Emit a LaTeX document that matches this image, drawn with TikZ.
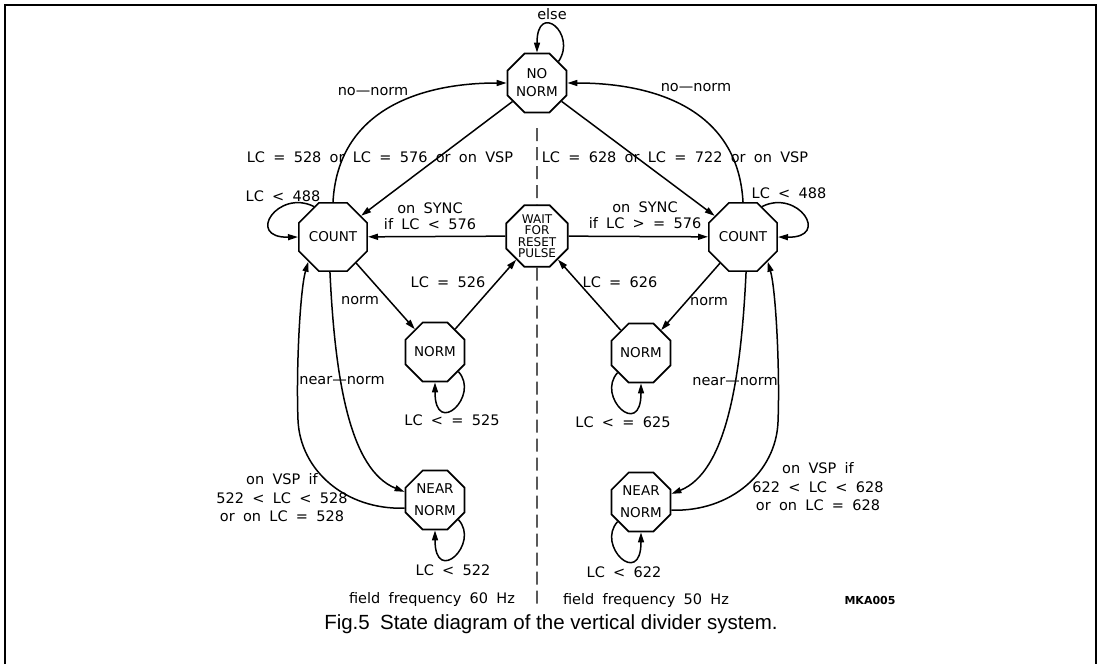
\documentclass[tikz,border=0pt]{standalone}
\usepackage{fontspec}
\setmainfont{DejaVu Sans}[WordSpace=1.8]
\newfontfamily\capfont{Liberation Sans}
\usepackage{tikz}
\usetikzlibrary{arrows.meta,shapes.geometric}
\newcommand{\condfont}{\fontsize{14.5}{18.5}\selectfont}
\newcommand{\statefont}{\fontsize{13.5}{18}\selectfont}
\newcommand{\waitfont}{\fontsize{12}{11.5}\selectfont}
\tikzset{
  >={Triangle[length=10pt,width=6pt]},
  flow/.style={->,line width=1.5pt},
  statebox/.style={draw,line width=1.7pt,regular polygon,regular polygon sides=8,
    minimum size=64pt,inner sep=0pt,align=center,font=\statefont},
  waitbox/.style={statebox,font=\waitfont},
  cond/.style={inner sep=0pt,align=center,font=\condfont},
  divider/.style={line width=1.2pt,dash pattern=on 13pt off 6pt}
}

\begin{document}
\begin{tikzpicture}[x=1pt,y=-1pt]
  \useasboundingbox (0,0) rectangle (1097,664);
  \draw[line width=2pt] (5,664) -- (5,5) -- (1096,5) -- (1096,664);

  % states
  \node[statebox] (nonorm) at (537,83) {NO\\NORM};
  \node[statebox] (countl) at (333,237) {COUNT};
  \node[waitbox] (wait) at (537,236) {WAIT\\FOR\\RESET\\PULSE};
  \node[statebox] (countr) at (743,237) {COUNT};
  \node[statebox] (norml) at (435,352) {NORM};
  \node[statebox] (normr) at (641,353) {NORM};
  \node[statebox] (nearl) at (435,500) {NEAR\\[4pt]NORM};
  \node[statebox] (nearr) at (641,502) {NEAR\\[4pt]NORM};

  % divider between 60 Hz and 50 Hz
  \coordinate (divtop) at (537,128);
  \coordinate (divbot) at (537,604);
  \draw[divider] (divtop) -- (wait.north);
  \draw[divider] (wait.south) -- (divbot);

  % transitions
  \draw[flow] (nonorm.45) .. controls +(19,-28) and +(0,-52) .. (nonorm.north);
  \draw[flow] (countl.north) .. controls (338,110) and (420,83) .. (nonorm.west);
  \draw[flow] (countr.north) .. controls (738,110) and (656,83) .. (nonorm.east);
  \draw[flow] (nonorm) -- (countl);
  \draw[flow] (nonorm) -- (countr);
  \draw[flow] (countl.122) .. controls +(-36,-18) and +(-53,1) .. (countl.west);
  \draw[flow] (countr.58) .. controls +(36,-18) and +(53,1) .. (countr.east);
  \draw[flow] (wait) -- (countl);
  \draw[flow] (wait) -- (countr);
  \draw[flow] (countl) -- (norml);
  \draw[flow] (norml) -- (wait);
  \draw[flow] (countr) -- (normr);
  \draw[flow] (normr) -- (wait);
  \draw[flow] (norml.-40) .. controls +(22,24) and +(0,56) .. (norml.south);
  \draw[flow] (normr.220) .. controls +(-22,24) and +(0,56) .. (normr.south);
  \draw[flow] (nearl.-40) .. controls +(22,24) and +(0,56) .. (nearl.south);
  \draw[flow] (nearr.220) .. controls +(-22,24) and +(0,56) .. (nearr.south);
  \draw[flow] (countl.265) .. controls (335,380) and (350,470) .. (nearl.165);
  \draw[flow] (countr.275) .. controls (741,380) and (726,472) .. (nearr.15);
  \draw[flow] (nearl.195) .. controls (345,510) and (300,470) .. (298,420)
    .. controls (296,370) and (300,290) .. (countl.225);
  \draw[flow] (nearr.-15) .. controls (731,512) and (776,472) .. (778,422)
    .. controls (780,372) and (776,290) .. (countr.-45);

  % conditions
  \node[cond] (celse) at (552,14) {else};
  \node[cond] (cnonorml) at (373,92) {no---norm};
  \node[cond] (cnonormr) at (696,88) {no---norm};
  \node[cond] (cvspl) at (380,157) {LC = 528 or LC = 576 or on VSP};
  \node[cond] (cvspr) at (675,157) {LC = 628 or LC = 722 or on VSP};
  \node[cond] (ccountl) at (283,196) {LC < 488};
  \node[cond] (ccountr) at (789,193) {LC < 488};
  \node[cond] (csyncl) at (430,216) {on SYNC\\[-2.5pt]if LC < 576};
  \node[cond] (csyncr) at (645,215) {on SYNC\\[-2.5pt]if LC > = 576};
  \node[cond] (cnorml) at (360,301) {norm};
  \node[cond] (cnormr) at (709,302) {norm};
  \node[cond] (cresetl) at (448,282) {LC = 526};
  \node[cond] (cresetr) at (620,282) {LC = 626};
  \node[cond] (cnearl) at (342,381) {near---norm};
  \node[cond] (cnearr) at (735,382) {near---norm};
  \node[cond] (cstayl) at (452,420) {LC < = 525};
  \node[cond] (cstayr) at (623,422) {LC < = 625};
  \node[cond] (cbackl) at (282,498) {on VSP if\\522 < LC < 528\\or on LC = 528};
  \node[cond] (cbackr) at (818,487) {on VSP if\\622 < LC < 628\\or on LC = 628};
  \node[cond] (cwaitl) at (453,570) {LC < 522};
  \node[cond] (cwaitr) at (624,572) {LC < 622};

  % footer
  \node[cond] (freql) at (432,599) {field frequency 60 Hz};
  \node[cond] (freqr) at (646,600) {field frequency 50 Hz};
  \node[inner sep=0pt,font=\fontsize{11}{13}\selectfont\bfseries] (code) at (870,600) {MKA005};
  \node[inner sep=0pt,font=\capfont\fontsize{20.5}{24}\selectfont] (caption) at (551,624)
    {Fig.5\enspace State diagram of the vertical divider system.};
\end{tikzpicture}
\end{document}
